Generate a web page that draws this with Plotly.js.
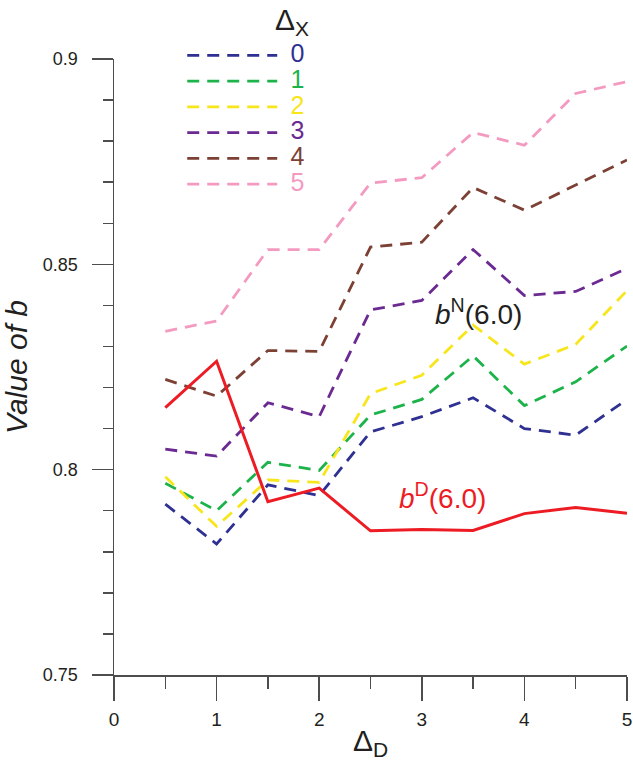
<!DOCTYPE html>
<html>
<head>
<meta charset="utf-8">
<script src="https://cdn.plot.ly/plotly-3.0.1.min.js"></script>
<style>html,body{margin:0;padding:0;background:#fff;}#chart{width:633px;height:761px;}</style>
</head>
<body>
<div id="chart"></div>
<script>
// Δ_D values (x axis)
var deltaD = [0.5, 1, 1.5, 2, 2.5, 3, 3.5, 4, 4.5, 5];
// b^N(6.0) for each Δ_X
var bN_dx0 = [0.7916, 0.7819, 0.7963, 0.7937, 0.8092, 0.8129, 0.8175, 0.8100, 0.8084, 0.8171];
var bN_dx1 = [0.7967, 0.7900, 0.8018, 0.7998, 0.8133, 0.8171, 0.8277, 0.8156, 0.8214, 0.8301];
var bN_dx2 = [0.7983, 0.7862, 0.7975, 0.7969, 0.8185, 0.8230, 0.8352, 0.8257, 0.8305, 0.8436];
var bN_dx3 = [0.8050, 0.8033, 0.8163, 0.8129, 0.8389, 0.8412, 0.8536, 0.8424, 0.8434, 0.8490];
var bN_dx4 = [0.8220, 0.8179, 0.8290, 0.8288, 0.8542, 0.8554, 0.8687, 0.8632, 0.8693, 0.8754];
var bN_dx5 = [0.8337, 0.8362, 0.8536, 0.8536, 0.8698, 0.8711, 0.8821, 0.8790, 0.8916, 0.8945];
// b^D(6.0)
var bD = [0.8151, 0.8264, 0.7922, 0.7955, 0.7851, 0.7854, 0.7852, 0.7893, 0.7908, 0.7894];
// legend labels (Δ_X)
var dxLabels = ['0', '1', '2', '3', '4', '5'];
var seriesN = [bN_dx0, bN_dx1, bN_dx2, bN_dx3, bN_dx4, bN_dx5];

var colors = ['#2e3192', '#1db34a', '#f7e61c', '#6a2a92', '#7c4034', '#f49ac1'];
var FONT = 'Liberation Sans, Arial, Helvetica, sans-serif';
var AX = '#4d4d4d';
var TXT = '#231f20';

var traces = [];
seriesN.forEach(function (ys, i) {
  traces.push({
    x: deltaD, y: ys, type: 'scatter', mode: 'lines',
    name: '<span style="color:' + colors[i] + ';font-size:25px">\u2004' + dxLabels[i] + '</span>',
    line: {color: colors[i], width: 2.8, dash: '12px,8px'},
    hoverinfo: 'skip'
  });
});
traces.push({
  x: deltaD, y: bD, type: 'scatter', mode: 'lines', name: 'bD',
  line: {color: '#ed1c24', width: 3}, showlegend: false, hoverinfo: 'skip'
});

var layout = {
  width: 633, height: 761,
  margin: {l: 114, r: 6, t: 59, b: 86, autoexpand: false},
  paper_bgcolor: '#fff', plot_bgcolor: '#fff',
  font: {family: FONT, color: TXT},
  showlegend: true,
  legend: {
    x: 0.133, y: 1.035, xanchor: 'left', yanchor: 'top',
    bgcolor: 'rgba(0,0,0,0)', borderwidth: 0,
    font: {family: FONT, size: 17.5, color: TXT},
    itemwidth: 90, tracegroupgap: 0
  },
  xaxis: {
    range: [0, 5], dtick: 1, tick0: 0,
    showline: true, linecolor: AX, linewidth: 1.5,
    ticks: 'outside', ticklen: 24, tickwidth: 1.5, tickcolor: AX,
    minor: {dtick: 0.5, ticks: 'outside', ticklen: 12, tickwidth: 1.5, tickcolor: AX},
    showgrid: false, zeroline: false,
    tickfont: {family: FONT, size: 19, color: TXT},
    ticklabelstandoff: 3,
    title: {text: 'Δ<sub>D</sub>', font: {family: FONT, size: 30, color: TXT}, standoff: 8}
  },
  yaxis: {
    range: [0.75, 0.9], dtick: 0.05, tick0: 0.75,
    showline: true, linecolor: AX, linewidth: 1.5,
    ticks: 'outside', ticklen: 21, tickwidth: 1.5, tickcolor: AX,
    minor: {dtick: 0.01, ticks: 'outside', ticklen: 10, tickwidth: 1.5, tickcolor: AX},
    showgrid: false, zeroline: false,
    tickfont: {family: FONT, size: 18, color: TXT},
    ticklabelstandoff: 10,
    title: {text: '<i>Value of b</i>', font: {family: FONT, size: 30, color: TXT}, standoff: 12}
  },
  annotations: [
    {x: 0.384, y: 1.0945, xref: 'paper', yref: 'paper', xanchor: 'right', yanchor: 'top',
     showarrow: false, text: 'Δ<sub>X</sub>', font: {family: FONT, size: 30, color: TXT}},
    {x: 3.55, y: 0.8385, xref: 'x', yref: 'y', showarrow: false,
     text: '<i>b</i><sup>N</sup>(6.0)', font: {family: FONT, size: 28, color: TXT}},
    {x: 3.2, y: 0.7935, xref: 'x', yref: 'y', showarrow: false,
     text: '<i>b</i><sup>D</sup>(6.0)', font: {family: FONT, size: 28, color: '#ed1c24'}}
  ]
};

Plotly.newPlot('chart', traces, layout, {displayModeBar: false, staticPlot: true});
</script>
</body>
</html>
